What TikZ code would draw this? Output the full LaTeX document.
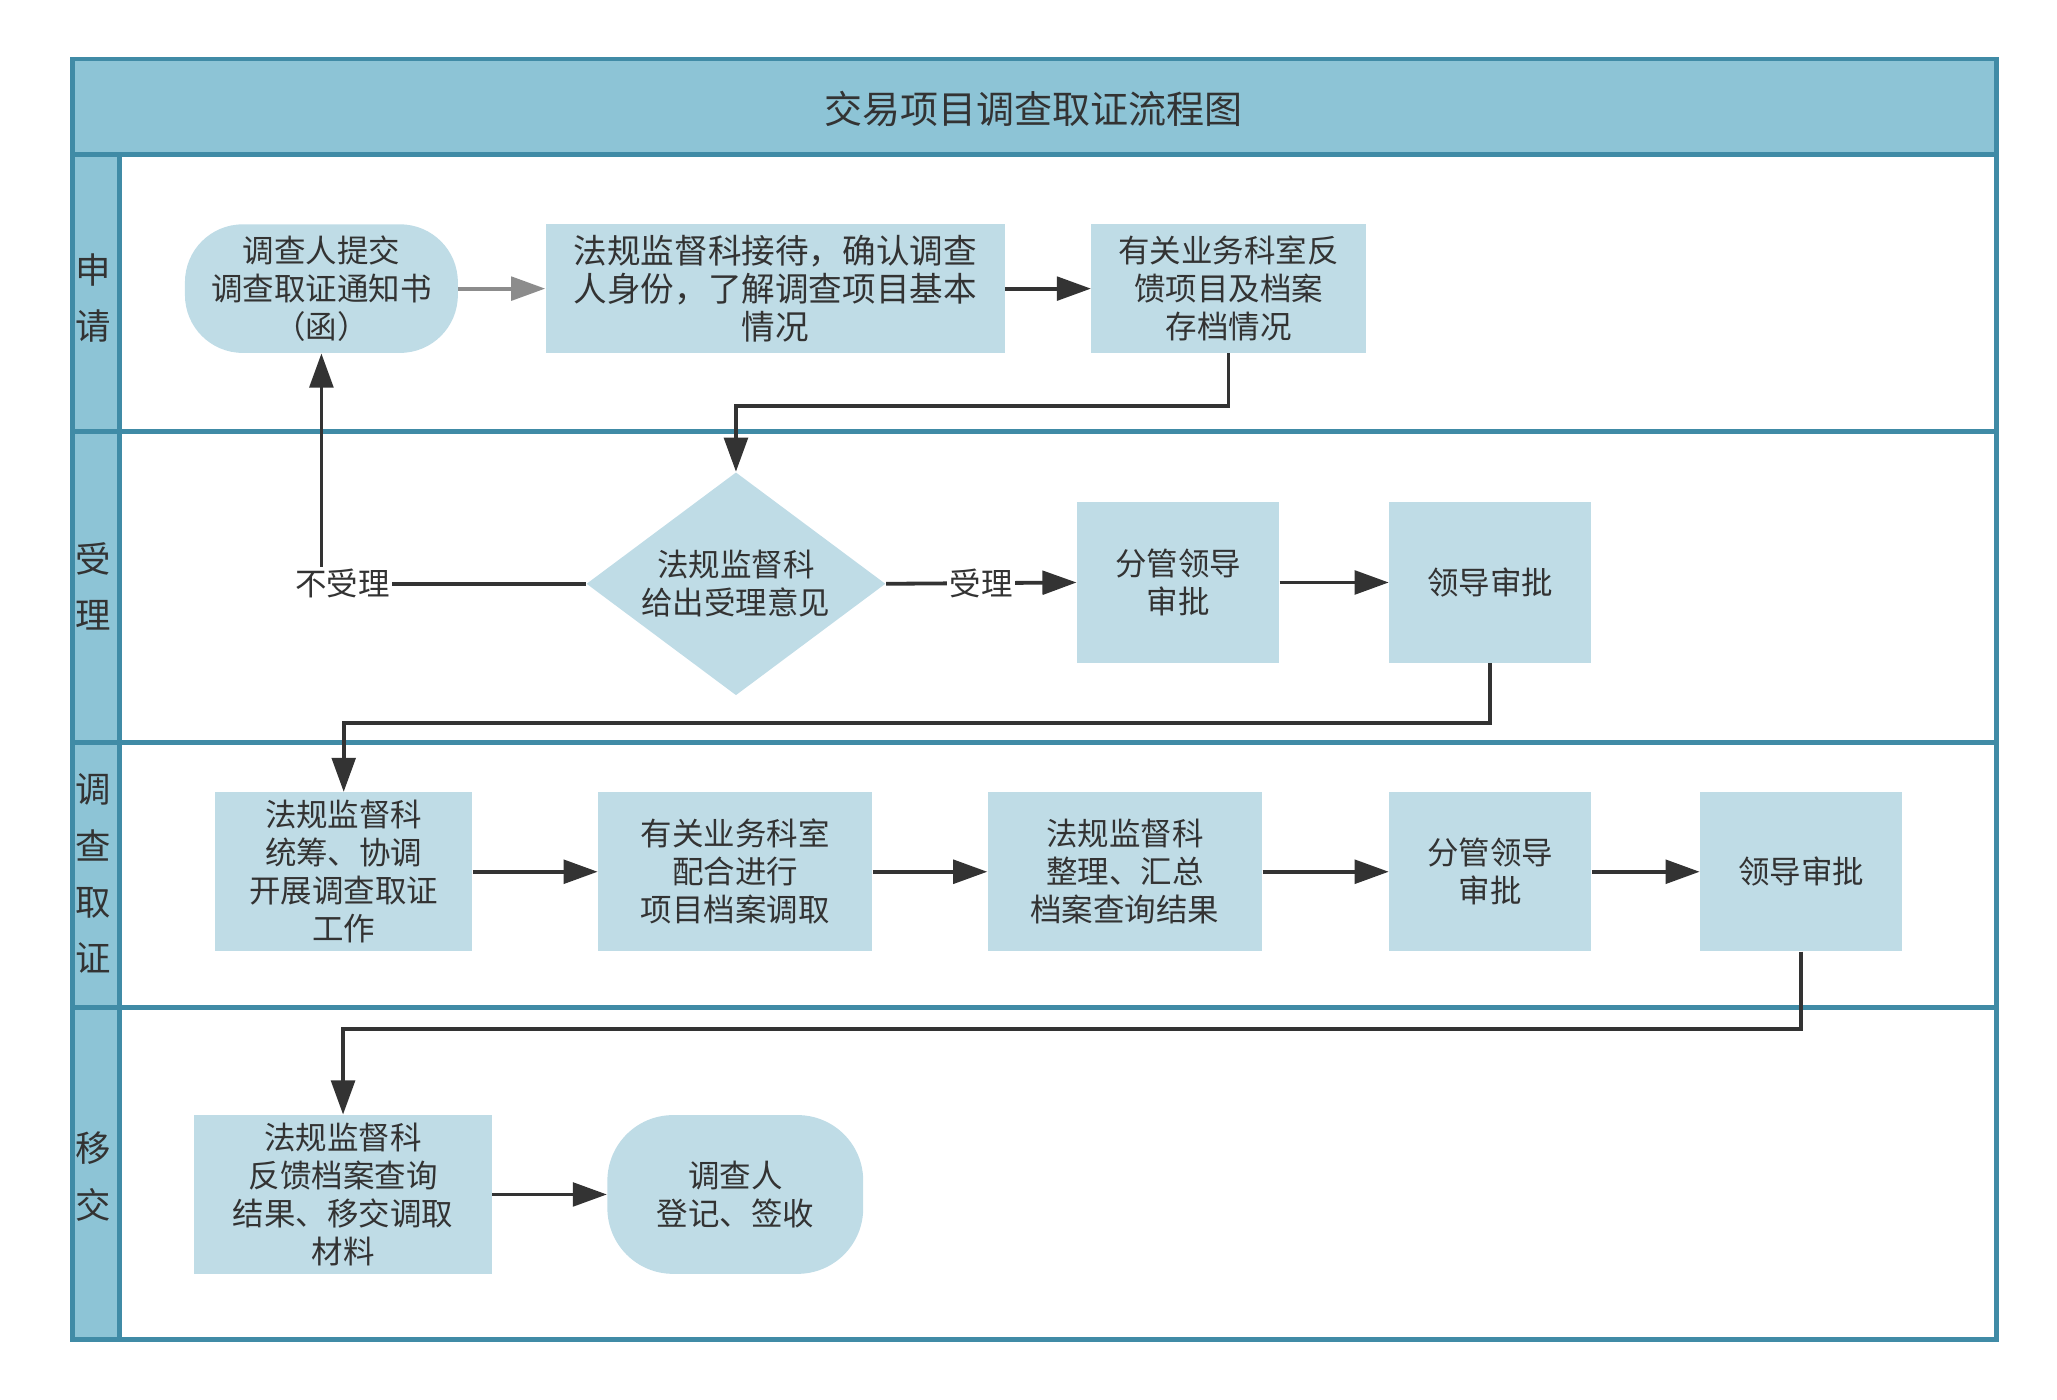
\documentclass[tikz,border=0pt]{standalone}
\usepackage{fontspec}
\setmainfont{Noto Sans CJK SC}
\usetikzlibrary{arrows.meta,shapes.geometric}
\definecolor{hdr}{HTML}{8DC4D6}
\definecolor{bord}{HTML}{408BA6}
\definecolor{nodef}{HTML}{BFDCE6}
\definecolor{txt}{HTML}{333333}
\definecolor{garrow}{HTML}{8C8C8C}
\begin{document}
\begin{tikzpicture}[x=0.5pt,y=-0.5pt,
  box/.style={draw=none,fill=nodef,text=txt,font=\fontsize{12}{14.5}\selectfont,align=center,inner sep=0pt},
  stadium/.style={box,rounded corners=22pt},
  decision/.style={box,diamond,aspect=1.34,minimum width=114pt,minimum height=85pt},
  conn/.style={draw=txt,line width=1.45pt,-{Triangle[length=13pt,width=9pt]}},
  gconn/.style={draw=garrow,line width=1.45pt,-{Triangle[length=13pt,width=9pt,fill=garrow]}},
  elabel/.style={fill=white,text=txt,font=\fontsize{12}{14.5}\selectfont,inner sep=1pt},
  lanetxt/.style={text=txt,font=\fontsize{13.5}{21.5}\selectfont,align=center,inner sep=0pt},
  frame/.style={draw=bord,line width=1.8pt}
]
\useasboundingbox (0,0) rectangle (1568,1067);
% header and lane column
\fill[hdr] (55,45) rectangle (1522,118);
\fill[hdr] (55,118) rectangle (91,1021);
\draw[frame] (55,45) rectangle (1522,1021);
\draw[frame] (55,118) -- (1522,118);
\draw[frame] (55,329) -- (1522,329);
\draw[frame] (55,566) -- (1522,566);
\draw[frame] (55,768) -- (1522,768);
\draw[frame] (91,118) -- (91,1021);
\node[text=txt,font=\fontsize{14.5}{17}\selectfont] (title) at (788,83) {交易项目调查取证流程图};
\node[lanetxt] (l1) at (71,227) {申\\请};
\node[lanetxt] (l2) at (71,447) {受\\理};
\node[lanetxt] (l3) at (71,666) {调\\查\\取\\证};
\node[lanetxt] (l4) at (71,897) {移\\交};
% nodes
\node[stadium,minimum width=104pt,minimum height=49pt] (n1) at (245,220) {调查人提交\\调查取证通知书\\（函）};
\node[box,font=\fontsize{12.8}{14.5}\selectfont,minimum width=175pt,minimum height=49pt] (n2) at (591,220) {法规监督科接待，确认调查\\人身份，了解调查项目基本\\情况};
\node[box,minimum width=104.5pt,minimum height=49pt] (n3) at (936.5,220) {有关业务科室反\\馈项目及档案\\存档情况};
\node[decision] (n4) at (561,445) {法规监督科\\给出受理意见};
\node[box,minimum width=77pt,minimum height=61pt] (n5) at (898,444) {分管领导\\审批};
\node[box,minimum width=77pt,minimum height=61pt] (n6) at (1136,444) {领导审批};
\node[box,minimum width=98pt,minimum height=60.5pt] (n7) at (262,664.5) {法规监督科\\统筹、协调\\开展调查取证\\工作};
\node[box,minimum width=104.5pt,minimum height=60.5pt] (n8) at (560.5,664.5) {有关业务科室\\配合进行\\项目档案调取};
\node[box,minimum width=104.5pt,minimum height=60.5pt] (n9) at (857.5,664.5) {法规监督科\\整理、汇总\\档案查询结果};
\node[box,minimum width=77pt,minimum height=60.5pt] (n10) at (1136,664.5) {分管领导\\审批};
\node[box,minimum width=77pt,minimum height=60.5pt] (n11) at (1373,664.5) {领导审批};
\node[box,minimum width=113.5pt,minimum height=60.5pt] (n12) at (261.5,910.5) {法规监督科\\反馈档案查询\\结果、移交调取\\材料};
\node[stadium,rounded corners=25pt,minimum width=97.5pt,minimum height=60.5pt] (n13) at (560.5,910.5) {调查人\\登记、签收};
% connectors
\draw[gconn] (n1.east) -- (n2.west);
\draw[conn] (n2.east) -- (n3.west);
\draw[conn] (n3.south) -- ++(0,40) -| (n4.north);
\draw[conn] (n4.west) -| (n1.south);
\node[elabel] (lb1) at (261,445) {不受理};
\draw[conn] (n4.east) -- node[elabel] (lb2) {受理} (n5.west);
\draw[conn] (n5.east) -- (n6.west);
\draw[conn] (n6.south) -- ++(0,46) -| (n7.north);
\draw[conn] (n7.east) -- (n8.west);
\draw[conn] (n8.east) -- (n9.west);
\draw[conn] (n9.east) -- (n10.west);
\draw[conn] (n10.east) -- (n11.west);
\draw[conn] (n11.south) -- ++(0,59) -| (n12.north);
\draw[conn] (n12.east) -- (n13.west);
\end{tikzpicture}
\end{document}
